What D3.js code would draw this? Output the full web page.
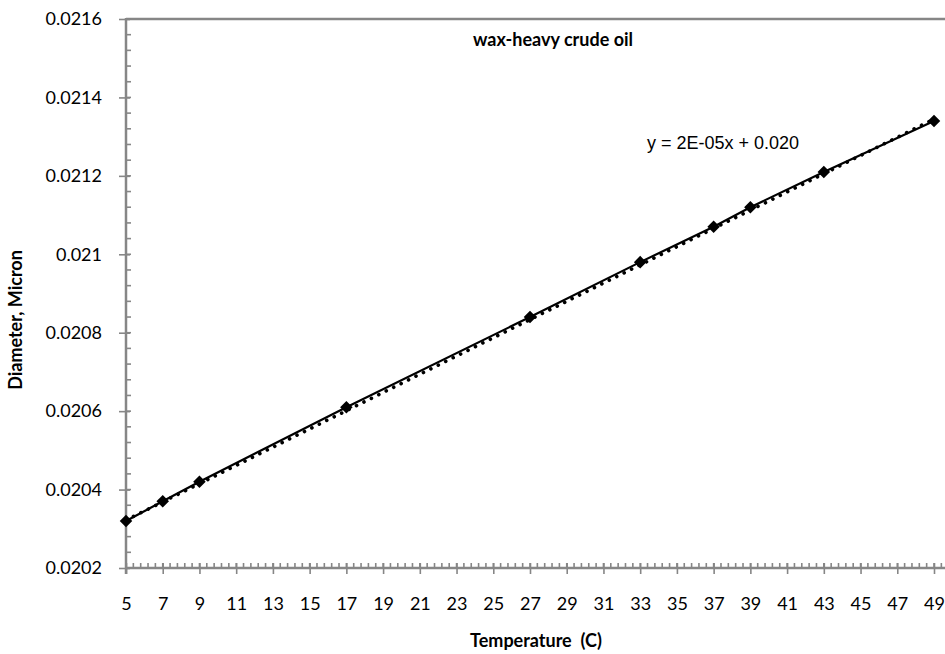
<!DOCTYPE html>
<html>
<head>
<meta charset="utf-8">
<script src="https://cdn.jsdelivr.net/npm/d3@7"></script>
<style>
  html, body { margin: 0; padding: 0; background: #fff; }
  svg { display: block; }
</style>
</head>
<body>
<svg id="chart" width="945" height="654"></svg>
<script>
// Measured particle diameter versus temperature
const temperature = [5, 7, 9, 17, 27, 33, 37, 39, 43, 49];
const diameter = [0.02032, 0.02037, 0.02042, 0.02061, 0.02084, 0.02098, 0.02107, 0.02112, 0.02121, 0.02134];
const xTickValues = d3.range(5, 50, 2);
const yTickValues = [0.0202, 0.0204, 0.0206, 0.0208, 0.021, 0.0212, 0.0214, 0.0216];
const yTickLabels = ["0.0202", "0.0204", "0.0206", "0.0208", "0.021", "0.0212", "0.0214", "0.0216"];
const chartTitle = "wax-heavy crude oil";
const xTitle = "Temperature  (C)";
const yTitle = "Diameter, Micron";
const equationText = "y = 2E-05x + 0.020";

const svg = d3.select("#chart");
const plotLeft = 126, plotRight = 934, plotTop = 19, plotBottom = 568, plotEdge = 945;
const axisColor = "#868686";
const labelFont = "Lato, 'Open Sans', sans-serif";

const x = d3.scaleLinear().domain([5, 49]).range([plotLeft, plotRight]);
const y = d3.scaleLinear().domain([0.0202, 0.0216]).range([plotBottom, plotTop]);

// Plot frame: top edge
svg.append("line").attr("x1", plotLeft).attr("x2", plotEdge).attr("y1", plotTop).attr("y2", plotTop)
  .attr("stroke", axisColor).attr("stroke-width", 2.5);

// Minor ticks (inside) on x axis
const xMinor = d3.range(5, x.invert(plotEdge) + 1e-9, 0.4);
svg.append("g").selectAll("line").data(xMinor).join("line")
  .attr("x1", d => x(d)).attr("x2", d => x(d))
  .attr("y1", plotBottom - 5).attr("y2", plotBottom)
  .attr("stroke", axisColor).attr("stroke-width", 1.6);
// Minor ticks (inside) on y axis
const yMinor = d3.range(0, 36).map(i => 0.0202 + i * 0.00004);
svg.append("g").selectAll("line").data(yMinor).join("line")
  .attr("x1", plotLeft).attr("x2", plotLeft + 5)
  .attr("y1", d => y(d)).attr("y2", d => y(d))
  .attr("stroke", axisColor).attr("stroke-width", 1.6);

// Major ticks and labels
const xAxis = d3.axisBottom(x).tickValues(xTickValues).tickSize(6).tickPadding(23).tickFormat(d3.format("d"));
const gx = svg.append("g").attr("transform", `translate(0,${plotBottom})`).call(xAxis);
gx.select(".domain").remove();
gx.selectAll(".tick line").attr("y1", -5).attr("stroke", axisColor).attr("stroke-width", 1.6);
gx.selectAll(".tick text").attr("fill", "#000").style("font", `18px ${labelFont}`);

const yAxis = d3.axisLeft(y).tickValues(yTickValues).tickSize(7).tickPadding(17)
  .tickFormat((d, i) => yTickLabels[i]);
const gy = svg.append("g").attr("transform", `translate(${plotLeft},0)`).call(yAxis);
gy.select(".domain").remove();
gy.selectAll(".tick line").attr("x2", -7).attr("x1", 4).attr("stroke", axisColor).attr("stroke-width", 1.6);
gy.selectAll(".tick text").attr("fill", "#000").style("font", `18px ${labelFont}`);

svg.append("line").attr("x1", plotLeft).attr("x2", plotEdge).attr("y1", plotBottom).attr("y2", plotBottom)
  .attr("stroke", axisColor).attr("stroke-width", 2.5);
svg.append("line").attr("x1", plotLeft).attr("x2", plotLeft).attr("y1", plotTop - 1).attr("y2", plotBottom + 6)
  .attr("stroke", axisColor).attr("stroke-width", 2.5);

// Least-squares trend line
const n = temperature.length;
const mx = d3.mean(temperature), my = d3.mean(diameter);
const slope = d3.sum(temperature, (t, i) => (t - mx) * (diameter[i] - my)) /
              d3.sum(temperature, t => (t - mx) ** 2);
const intercept = my - slope * mx;
const trendX = [temperature[0], temperature[n - 1]];
svg.append("path")
  .attr("d", d3.line().x(d => x(d)).y(d => y(slope * d + intercept) + 1.5)(trendX))
  .attr("fill", "none").attr("stroke", "#000").attr("stroke-width", 3.6)
  .attr("stroke-linecap", "round").attr("stroke-dasharray", "0.1 8.2");

// Data series line and diamond markers
const pts = temperature.map((t, i) => [t, diameter[i]]);
svg.append("path")
  .attr("d", d3.line().x(d => x(d[0])).y(d => y(d[1]))(pts))
  .attr("fill", "none").attr("stroke", "#000").attr("stroke-width", 2.2);
svg.append("g").selectAll("path").data(pts).join("path")
  .attr("transform", d => `translate(${x(d[0])},${y(d[1])})`)
  .attr("d", d3.symbol(d3.symbolDiamond2, 100)())
  .attr("fill", "#000");

// Titles and annotation
svg.append("text").attr("x", 473).attr("y", 46).text(chartTitle)
  .style("font", `bold 18px ${labelFont}`).attr("fill", "#000");
svg.append("text").attr("x", 647).attr("y", 149).text(equationText)
  .style("font", "18px 'Liberation Sans', Arial, sans-serif").attr("fill", "#000");
svg.append("text").attr("x", 536).attr("y", 647).attr("text-anchor", "middle")
  .text(xTitle).style("font", `bold 18px ${labelFont}`).attr("fill", "#000").style("white-space", "pre");
svg.append("text").attr("transform", `translate(22,320) rotate(-90)`)
  .attr("text-anchor", "middle").text(yTitle)
  .style("font", `bold 18px ${labelFont}`).attr("fill", "#000");
</script>
</body>
</html>
